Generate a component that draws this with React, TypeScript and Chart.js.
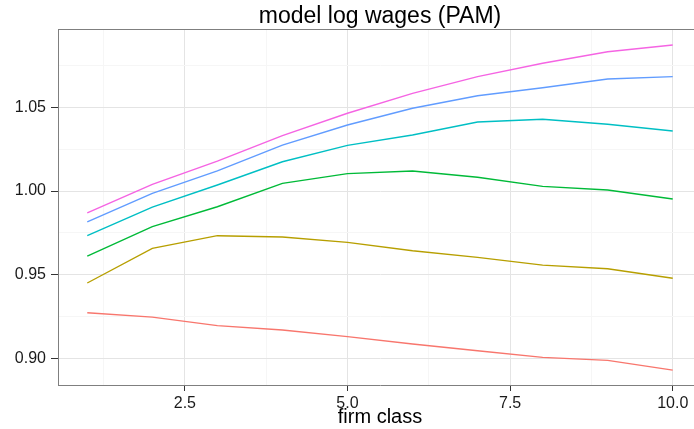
import React, { useEffect, useRef } from "react";
import { Chart, registerables } from "chart.js";

Chart.register(...registerables);

const FONT = '"Liberation Sans", Arial, Helvetica, sans-serif';

const firmClass = [1, 2, 3, 4, 5, 6, 7, 8, 9, 10];

const worker1 = [0.9272, 0.9246, 0.9195, 0.9169, 0.9129, 0.9085, 0.9045, 0.9005, 0.8987, 0.8929];
const worker2 = [0.945, 0.9657, 0.9733, 0.9725, 0.9693, 0.9643, 0.9603, 0.9557, 0.9535, 0.9478];
const worker3 = [0.9611, 0.9787, 0.9906, 1.0046, 1.0104, 1.012, 1.0082, 1.0028, 1.0006, 0.9952];
const worker4 = [0.9733, 0.9904, 1.0036, 1.0175, 1.0273, 1.0335, 1.0413, 1.0429, 1.0399, 1.0359];
const worker5 = [0.9816, 0.9986, 1.012, 1.0275, 1.0395, 1.0495, 1.057, 1.0618, 1.067, 1.0684];
const worker6 = [0.987, 1.004, 1.0179, 1.0331, 1.0465, 1.0584, 1.0684, 1.0764, 1.0833, 1.0873];

const seriesNames = ["1", "2", "3", "4", "5", "6"];
const seriesValues = [worker1, worker2, worker3, worker4, worker5, worker6];
const seriesColors = ["#F8766D", "#B79F00", "#00BA38", "#00BFC4", "#619CFF", "#F564E3"];

const xTicks = [1.25, 2.5, 3.75, 5, 6.25, 7.5, 8.75, 10];
const xMajor = [2.5, 5, 7.5, 10];
const yTicks = [0.9, 0.925, 0.95, 0.975, 1.0, 1.025, 1.05, 1.075];
const yMajor = [0.9, 0.95, 1.0, 1.05];

const titleText = "model log wages (PAM)";
const xTitle = "firm class";

const isIn = (arr: number[], v: number) => arr.some((m) => Math.abs(m - v) < 1e-9);

export default function App() {
  const ref = useRef<HTMLCanvasElement | null>(null);

  useEffect(() => {
    if (!ref.current) return;
    const titlePlugin = {
      id: "mainTitle",
      afterDraw(chart: any) {
        const ctx = chart.ctx;
        const { left, right, top } = chart.chartArea;
        ctx.save();
        ctx.strokeStyle = "#7f7f7f";
        ctx.lineWidth = 1;
        ctx.beginPath();
        ctx.moveTo(left, Math.round(top) + 0.5);
        ctx.lineTo(right, Math.round(top) + 0.5);
        ctx.stroke();
        ctx.font = `23px ${FONT}`;
        ctx.fillStyle = "#000";
        ctx.textAlign = "center";
        ctx.textBaseline = "middle";
        ctx.fillText(titleText, (left + right) / 2, 17);
        ctx.restore();
      },
    };

    const chart = new Chart(ref.current, {
      type: "line",
      data: {
        datasets: seriesValues.map((vals, i) => ({
          label: seriesNames[i],
          data: firmClass.map((x, j) => ({ x, y: vals[j] })),
          borderColor: seriesColors[i],
          backgroundColor: seriesColors[i],
          borderWidth: 1.4,
          pointRadius: 0,
          tension: 0,
          fill: false,
        })),
      },
      options: {
        responsive: false,
        maintainAspectRatio: false,
        animation: false,
        layout: { padding: { left: 0, right: 18, top: 29, bottom: 0 } },
        plugins: {
          legend: { display: false },
          title: { display: false },
          tooltip: { enabled: false },
        },
        scales: {
          x: {
            type: "linear",
            min: 0.55,
            max: 10.45,
            afterBuildTicks: (s: any) => {
              s.ticks = xTicks.map((v) => ({ value: v }));
            },
            afterFit: (s: any) => {
              s.height = 44;
            },
            ticks: {
              autoSkip: false,
              maxRotation: 0,
              padding: 3,
              color: "#1a1a1a",
              font: { size: 16, family: FONT },
              callback: (v: any) => (isIn(xMajor, Number(v)) ? Number(v).toFixed(1) : ""),
            },
            grid: {
              color: (c: any) => (c.tick && isIn(xMajor, c.tick.value) ? "#e4e4e4" : "#f6f6f6"),
              lineWidth: 1,
              tickLength: 6,
              tickColor: (c: any) => (c.tick && isIn(xMajor, c.tick.value) ? "#333" : "rgba(0,0,0,0)"),
            },
            border: { display: true, color: "#7f7f7f", width: 1 },
            title: {
              display: true,
              text: xTitle,
              color: "#000",
              font: { size: 20, family: FONT },
              padding: { top: 0, bottom: 0 },
            },
          },
          y: {
            type: "linear",
            min: 0.884,
            max: 1.0969,
            afterBuildTicks: (s: any) => {
              s.ticks = yTicks.map((v) => ({ value: v }));
            },
            afterFit: (s: any) => {
              s.width = 58;
            },
            ticks: {
              autoSkip: false,
              padding: 5,
              color: "#1a1a1a",
              font: { size: 16, family: FONT },
              callback: (v: any) => (isIn(yMajor, Number(v)) ? Number(v).toFixed(2) : ""),
            },
            grid: {
              color: (c: any) => (c.tick && isIn(yMajor, c.tick.value) ? "#e4e4e4" : "#f6f6f6"),
              lineWidth: 1,
              tickLength: 7,
              tickColor: (c: any) => (c.tick && isIn(yMajor, c.tick.value) ? "#333" : "rgba(0,0,0,0)"),
            },
            border: { display: true, color: "#7f7f7f", width: 1 },
          },
        },
      },
      plugins: [titlePlugin],
    } as any);

    return () => chart.destroy();
  }, []);

  return (
    <div
      style={{
        position: "fixed",
        left: 0,
        top: 0,
        width: 694,
        height: 429,
        overflow: "hidden",
        background: "#fff",
      }}
    >
      <canvas ref={ref} width={720} height={429} style={{ display: "block" }} />
    </div>
  );
}
